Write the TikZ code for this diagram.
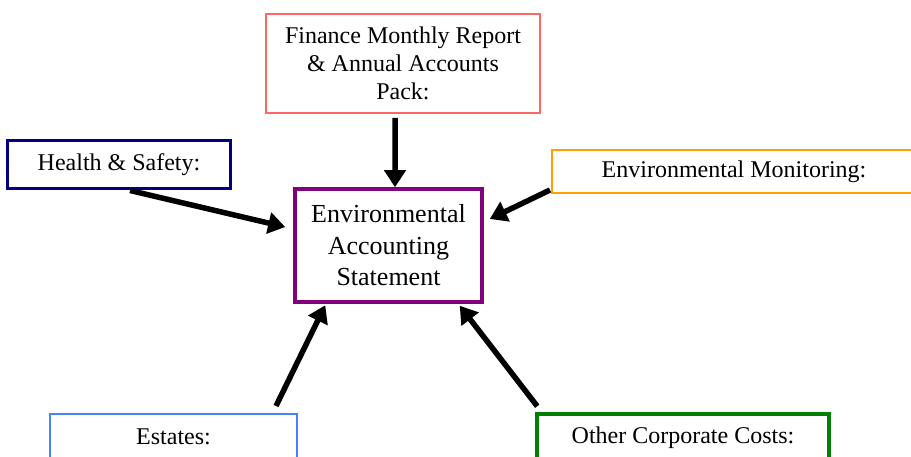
\documentclass[tikz,border=0pt]{standalone}
\usepackage{fontspec}
\setmainfont{Liberation Serif}
\usetikzlibrary{arrows.meta,positioning,calc}

\definecolor{finred}{RGB}{255,102,102}
\definecolor{hsnavy}{RGB}{0,0,128}
\definecolor{emorange}{RGB}{255,160,0}
\definecolor{easpurple}{RGB}{128,0,128}
\definecolor{estblue}{RGB}{70,130,250}
\definecolor{occgreen}{RGB}{0,128,0}

\begin{document}
\begin{tikzpicture}[x=1bp,y=-1bp]
\tikzset{box/.style={draw, rectangle, inner sep=0pt, align=center, font=\fontsize{24bp}{28bp}\selectfont}}
\tikzset{feed/.style={line width=5.5bp, -{Triangle[width=21bp,length=17bp]}}}
\useasboundingbox (0,0) rectangle (911,457);

\node[box, draw=finred, line width=2bp, minimum width=274bp, minimum height=99bp] (FIN) at (403,63.5) {Finance Monthly Report\\\& Annual Accounts\\Pack:};
\node[box, draw=hsnavy, line width=3bp, minimum width=222bp, minimum height=48bp] (HS) at (119,165) {Health \& Safety:};
\node[box, draw=emorange, line width=2bp, minimum width=364bp, minimum height=43bp] (EM) at (734,171.5) {Environmental Monitoring:};
\node[box, draw=easpurple, line width=3.5bp, minimum width=187bp, minimum height=113bp, font=\fontsize{26bp}{31.5bp}\selectfont] (EAS) at (388.5,245.5) {Environmental\\Accounting\\Statement};
\node[box, draw=estblue, line width=2bp, minimum width=247bp, minimum height=46bp] (EST) at (173.5,437) {Estates:};
\node[box, draw=occgreen, line width=3.5bp, minimum width=292bp, minimum height=48bp] (OCC) at (683,438) {Other Corporate Costs:};

% inputs to the statement
\draw[feed] ([xshift=-8bp,yshift=-4bp]FIN.south) -- ([xshift=6.5bp]EAS.north);
\draw[feed] ([xshift=11bp]HS.south) -- ([xshift=-8bp,yshift=18.5bp]EAS.west);
\draw[feed] ([xshift=-1bp,yshift=4bp]EM.south west) -- ([xshift=6bp,yshift=26.5bp]EAS.east);
\draw[feed] ([xshift=-22bp,yshift=7bp]EST.north east) -- ([xshift=32bp,yshift=-1.5bp]EAS.south west);
\draw[feed] ([xshift=2bp,yshift=6bp]OCC.north west) -- ([xshift=-24bp,yshift=-2bp]EAS.south east);
\end{tikzpicture}
\end{document}
